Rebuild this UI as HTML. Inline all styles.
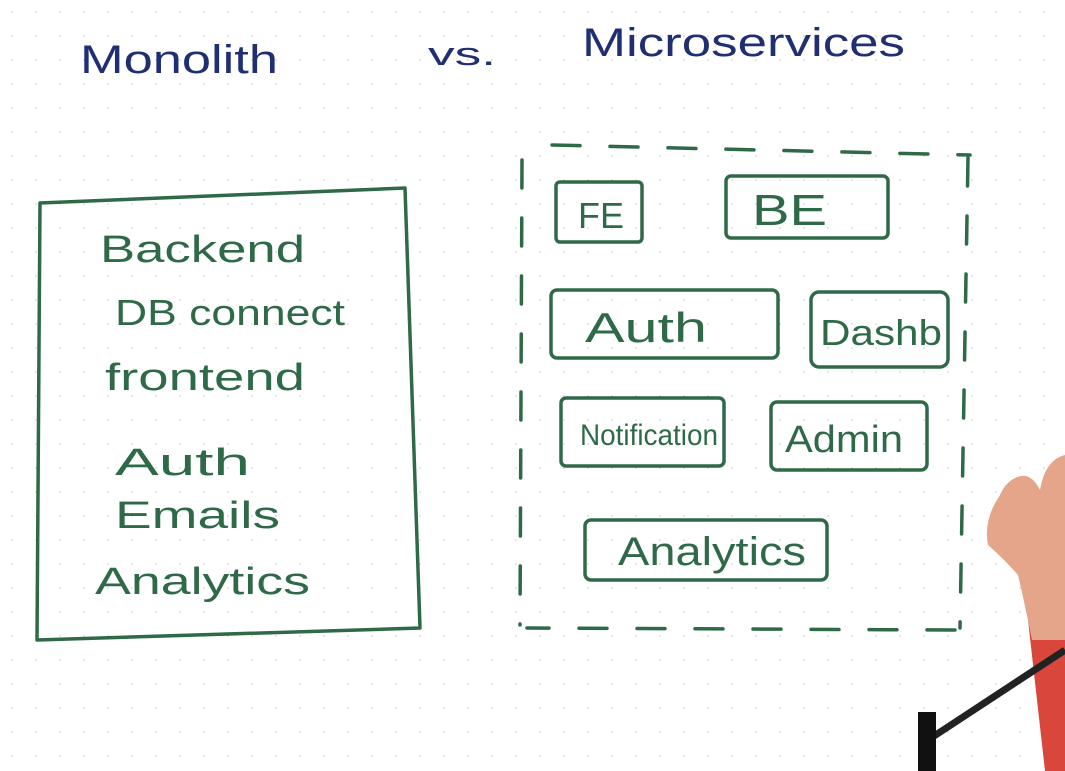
<!DOCTYPE html>
<html><head><meta charset="utf-8"><style>
html,body{margin:0;padding:0;background:#fff;}
svg{display:block}
.t{font-family:"Liberation Sans",sans-serif;fill:#1f2f72;}
.g{font-family:"Liberation Sans",sans-serif;fill:#2f6a48;}
</style></head><body>
<svg width="1065" height="771" viewBox="0 0 1065 771" xmlns="http://www.w3.org/2000/svg">
<defs>
<pattern id="dots" width="24" height="24" patternUnits="userSpaceOnUse">
<circle cx="12" cy="12" r="0.9" fill="#d6d6d6"/>
</pattern>
</defs>
<rect width="1065" height="771" fill="#fff"/>
<rect width="1065" height="771" fill="url(#dots)"/>
<text class="t" x="80" y="73" font-size="40" textLength="198" lengthAdjust="spacingAndGlyphs">Monolith</text>
<text class="t" x="428" y="65" font-size="32" textLength="68" lengthAdjust="spacingAndGlyphs">vs.</text>
<text class="t" x="582" y="56" font-size="40" textLength="323" lengthAdjust="spacingAndGlyphs">Microservices</text>
<polygon points="40,203 405,188 420,628 37,640" fill="none" stroke="#2f6a48" stroke-width="3.5" stroke-linejoin="round"/>
<text class="g" x="100" y="262" font-size="38" textLength="205" lengthAdjust="spacingAndGlyphs">Backend</text>
<text class="g" x="115" y="325" font-size="36" textLength="230" lengthAdjust="spacingAndGlyphs">DB connect</text>
<text class="g" x="105" y="390" font-size="38" textLength="200" lengthAdjust="spacingAndGlyphs">frontend</text>
<text class="g" x="115" y="475" font-size="38" textLength="135" lengthAdjust="spacingAndGlyphs">Auth</text>
<text class="g" x="115" y="528" font-size="38" textLength="165" lengthAdjust="spacingAndGlyphs">Emails</text>
<text class="g" x="95" y="594" font-size="38" textLength="215" lengthAdjust="spacingAndGlyphs">Analytics</text>
<g fill="none" stroke="#2f6a48" stroke-width="3.5" stroke-dasharray="28,30" stroke-linecap="round">
<line x1="552" y1="145" x2="970" y2="155"/>
<line x1="968" y1="158" x2="960" y2="628"/>
<line x1="955" y1="630" x2="527" y2="628"/>
<line x1="522" y1="160" x2="520" y2="625"/>
</g>
<g fill="none" stroke="#2f6a48" stroke-width="3.5" stroke-linejoin="round">
<rect x="556" y="182" width="86" height="60" rx="4"/>
<rect x="726" y="176" width="162" height="62" rx="5"/>
<rect x="551" y="290" width="227" height="68" rx="6"/>
<rect x="811" y="292" width="137" height="75" rx="8"/>
<rect x="561" y="398" width="163" height="68" rx="5"/>
<rect x="771" y="402" width="156" height="68" rx="6"/>
<rect x="585" y="520" width="242" height="60" rx="6"/>
</g>
<text class="g" x="578" y="228" font-size="36" textLength="46" lengthAdjust="spacingAndGlyphs">FE</text>
<text class="g" x="752" y="225" font-size="44" textLength="75" lengthAdjust="spacingAndGlyphs">BE</text>
<text class="g" x="585" y="342" font-size="42" textLength="122" lengthAdjust="spacingAndGlyphs">Auth</text>
<text class="g" x="820" y="345" font-size="36" textLength="122" lengthAdjust="spacingAndGlyphs">Dashb</text>
<text class="g" x="580" y="445" font-size="30" textLength="138" lengthAdjust="spacingAndGlyphs">Notification</text>
<text class="g" x="785" y="452" font-size="38" textLength="118" lengthAdjust="spacingAndGlyphs">Admin</text>
<text class="g" x="618" y="565" font-size="40" textLength="188" lengthAdjust="spacingAndGlyphs">Analytics</text>
<path d="M1028,620 L1065,605 L1065,771 L1045,771 Z" fill="#d9463c"/>
<path d="M1000,495 Q983,520 988,545 Q1005,560 1018,575 Q1025,605 1032,640 L1065,640 L1065,455 Q1045,460 1040,490 Q1030,470 1015,478 Q1005,483 1000,495 Z" fill="#e5a58a"/>
<line x1="925" y1="742" x2="1065" y2="650" stroke="#222" stroke-width="7"/>
<rect x="918" y="712" width="18" height="59" fill="#111"/>
</svg>
</body></html>
